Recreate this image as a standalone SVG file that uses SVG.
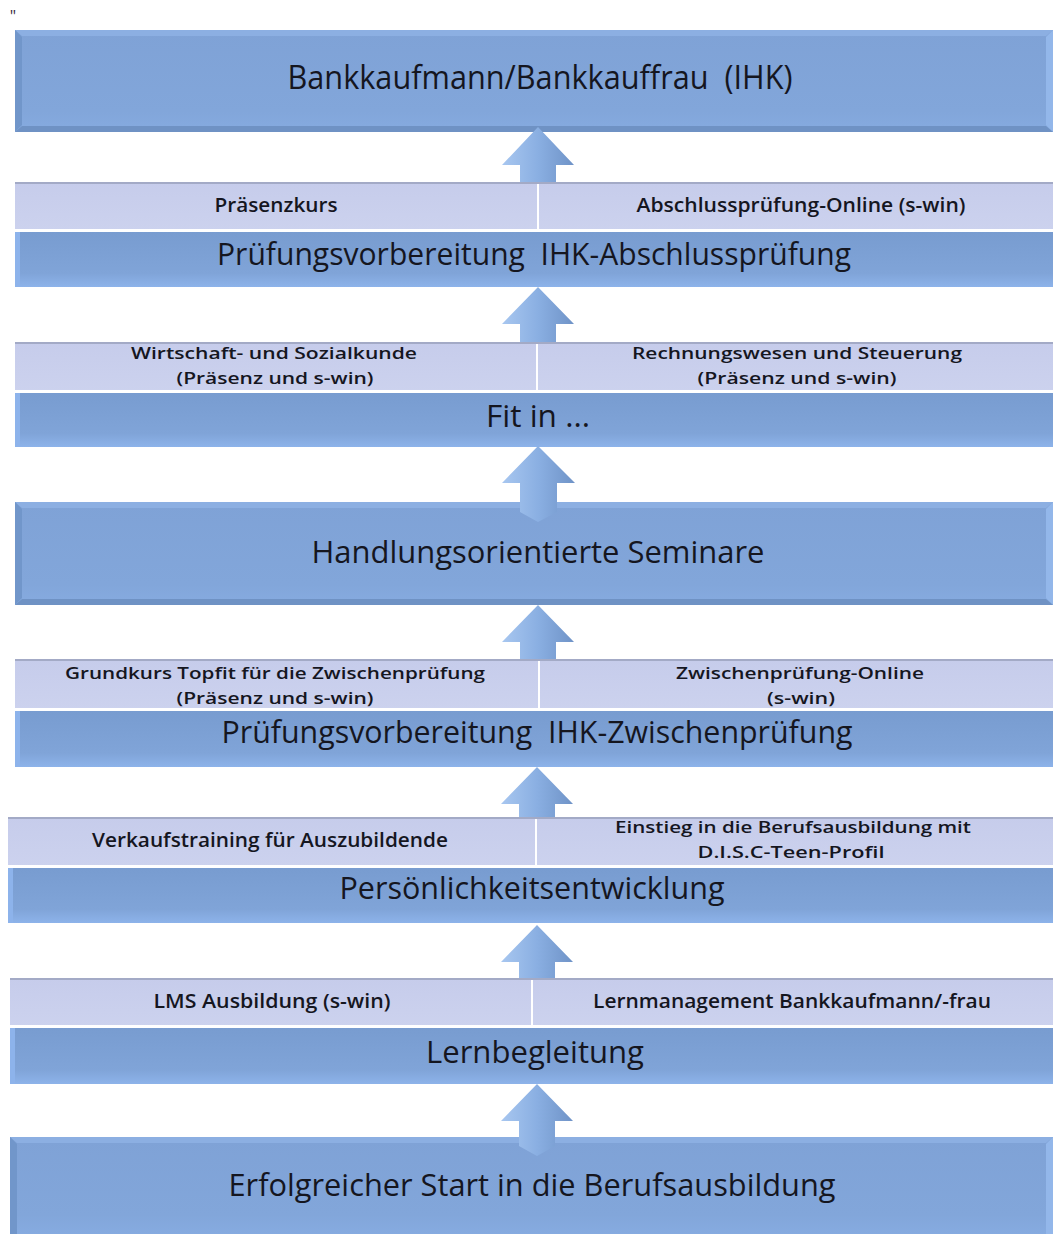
<svg xmlns="http://www.w3.org/2000/svg" width="1057" height="1234" viewBox="0 0 1057 1234">
<defs>
<linearGradient id="arrowGrad" x1="0" y1="0" x2="1" y2="0">
<stop offset="0" stop-color="#a8c7f0"/>
<stop offset="0.5" stop-color="#8aafe2"/>
<stop offset="1" stop-color="#6f93c7"/>
</linearGradient>
<linearGradient id="boxGrad" x1="0" y1="0" x2="0" y2="1">
<stop offset="0" stop-color="#7fa2d6"/>
<stop offset="0.8" stop-color="#82a6da"/>
<stop offset="1" stop-color="#86abe0"/>
</linearGradient>
<linearGradient id="barGrad" x1="0" y1="0" x2="0" y2="1">
<stop offset="0" stop-color="#789cd0"/>
<stop offset="0.75" stop-color="#80a4d8"/>
<stop offset="1" stop-color="#8db3ea"/>
</linearGradient>
<linearGradient id="subGrad" x1="0" y1="0" x2="0" y2="1">
<stop offset="0" stop-color="#c6cceb"/>
<stop offset="1" stop-color="#ccd2ee"/>
</linearGradient>
</defs>
<style>
.box{fill:url(#boxGrad)}
.bar{fill:url(#barGrad)}
.sub{fill:url(#subGrad)}
.subtop{fill:#a3aac6}
.sep{fill:#ffffff}
.bl{fill:#7196ca}
.br{fill:#93b7ea}
.bt{fill:#8cafe2}
.bb{fill:#6f92c4}
.barl{fill:#8db3eb}
.arrow{fill:url(#arrowGrad)}
text{font-family:"Open Sans","Noto Sans","Liberation Sans",sans-serif;fill:#15161f;text-anchor:middle}
.big{font-size:33px}
.mid{font-size:31px}
.sm{font-size:19px;font-weight:600}
.sm2{font-size:17px;font-weight:600}
</style>
<rect width="1057" height="1234" fill="#ffffff"/>
<text x="13" y="22" style="font-size:16px;fill:#3a2a40">"</text>

<g id="bankkaufmann">
<rect class="box" x="15" y="30" width="1038" height="102"/>
<polygon class="bt" points="15,30 1053,30 1046,36 22,36"/>
<polygon class="bl" points="15,30 22,37 22,125 15,132"/>
<polygon class="br" points="1053,30 1046,37 1046,125 1053,132"/>
<polygon class="bb" points="15,132 22,126 1046,126 1053,132"/>
<text class="big" x="540" y="89" textLength="505" lengthAdjust="spacingAndGlyphs" xml:space="preserve">Bankkaufmann/Bankkauffrau  (IHK)</text>
</g>

<g id="pruefung-abschluss">
<rect class="sub" x="15" y="182" width="1038" height="49"/>
<rect class="subtop" x="15" y="182" width="1038" height="2"/>
<rect class="sep" x="537" y="184" width="2" height="47"/>
<rect class="sep" x="15" y="229" width="1038" height="3"/>
<rect class="bar" x="15" y="232" width="1038" height="55"/>
<rect class="barl" x="15" y="232" width="5" height="55"/>
<text class="sm" x="276" y="212" textLength="123" lengthAdjust="spacingAndGlyphs">Präsenzkurs</text>
<text class="sm" x="801" y="212" textLength="329" lengthAdjust="spacingAndGlyphs">Abschlussprüfung-Online (s-win)</text>
<text class="mid" x="534" y="265" textLength="634" lengthAdjust="spacingAndGlyphs" xml:space="preserve">Prüfungsvorbereitung  IHK-Abschlussprüfung</text>
</g>

<g id="fit-in">
<rect class="sub" x="15" y="342" width="1038" height="50"/>
<rect class="subtop" x="15" y="342" width="1038" height="2"/>
<rect class="sep" x="536" y="344" width="2" height="48"/>
<rect class="sep" x="15" y="390" width="1038" height="3"/>
<rect class="bar" x="15" y="393" width="1038" height="54"/>
<rect class="barl" x="15" y="393" width="5" height="54"/>
<text class="sm2" x="274" y="359" textLength="286" lengthAdjust="spacingAndGlyphs">Wirtschaft- und Sozialkunde</text>
<text class="sm2" x="275" y="384" textLength="197" lengthAdjust="spacingAndGlyphs">(Präsenz und s-win)</text>
<text class="sm2" x="797" y="359" textLength="330" lengthAdjust="spacingAndGlyphs">Rechnungswesen und Steuerung</text>
<text class="sm2" x="797" y="384" textLength="199" lengthAdjust="spacingAndGlyphs">(Präsenz und s-win)</text>
<text class="mid" x="538" y="427" textLength="104" lengthAdjust="spacingAndGlyphs">Fit in ...</text>
</g>

<g id="seminare">
<rect class="box" x="15" y="502" width="1038" height="103"/>
<polygon class="bt" points="15,502 1053,502 1046,508 22,508"/>
<polygon class="bl" points="15,502 22,509 22,598 15,605"/>
<polygon class="br" points="1053,502 1046,509 1046,598 1053,605"/>
<polygon class="bb" points="15,605 22,599 1046,599 1053,605"/>
<text class="mid" x="538" y="563" textLength="453" lengthAdjust="spacingAndGlyphs">Handlungsorientierte Seminare</text>
</g>

<g id="pruefung-zwischen">
<rect class="sub" x="15" y="659" width="1038" height="51"/>
<rect class="subtop" x="15" y="659" width="1038" height="2"/>
<rect class="sep" x="538" y="661" width="2" height="49"/>
<rect class="sep" x="15" y="708" width="1038" height="3"/>
<rect class="bar" x="15" y="711" width="1038" height="56"/>
<rect class="barl" x="15" y="711" width="5" height="56"/>
<text class="sm2" x="275" y="679" textLength="420" lengthAdjust="spacingAndGlyphs">Grundkurs Topfit für die Zwischenprüfung</text>
<text class="sm2" x="275" y="704" textLength="197" lengthAdjust="spacingAndGlyphs">(Präsenz und s-win)</text>
<text class="sm2" x="800" y="679" textLength="248" lengthAdjust="spacingAndGlyphs">Zwischenprüfung-Online</text>
<text class="sm2" x="801" y="704" textLength="68" lengthAdjust="spacingAndGlyphs">(s-win)</text>
<text class="mid" x="537" y="743" textLength="631" lengthAdjust="spacingAndGlyphs" xml:space="preserve">Prüfungsvorbereitung  IHK-Zwischenprüfung</text>
</g>

<g id="persoenlichkeit">
<rect class="sub" x="8" y="817" width="1045" height="50"/>
<rect class="subtop" x="8" y="817" width="1045" height="2"/>
<rect class="sep" x="535" y="819" width="2" height="48"/>
<rect class="sep" x="8" y="865" width="1045" height="3"/>
<rect class="bar" x="8" y="868" width="1045" height="55"/>
<rect class="barl" x="8" y="868" width="5" height="55"/>
<text class="sm" x="270" y="847" textLength="356" lengthAdjust="spacingAndGlyphs">Verkaufstraining für Auszubildende</text>
<text class="sm2" x="793" y="833" textLength="356" lengthAdjust="spacingAndGlyphs">Einstieg in die Berufsausbildung mit</text>
<text class="sm2" x="791" y="858" textLength="187" lengthAdjust="spacingAndGlyphs">D.I.S.C-Teen-Profil</text>
<text class="mid" x="532" y="899" textLength="385" lengthAdjust="spacingAndGlyphs">Persönlichkeitsentwicklung</text>
</g>

<g id="lernbegleitung">
<rect class="sub" x="10" y="978" width="1043" height="49"/>
<rect class="subtop" x="10" y="978" width="1043" height="2"/>
<rect class="sep" x="531" y="980" width="2" height="47"/>
<rect class="sep" x="10" y="1025" width="1043" height="3"/>
<rect class="bar" x="10" y="1028" width="1043" height="56"/>
<rect class="barl" x="10" y="1028" width="5" height="56"/>
<text class="sm" x="272" y="1008" textLength="237" lengthAdjust="spacingAndGlyphs">LMS Ausbildung (s-win)</text>
<text class="sm" x="792" y="1008" textLength="398" lengthAdjust="spacingAndGlyphs">Lernmanagement Bankkaufmann/-frau</text>
<text class="mid" x="535" y="1063" textLength="218" lengthAdjust="spacingAndGlyphs">Lernbegleitung</text>
</g>

<g id="start">
<rect class="box" x="10" y="1137" width="1043" height="97"/>
<polygon class="bt" points="10,1137 1053,1137 1046,1143 17,1143"/>
<polygon class="bl" points="10,1137 17,1144 17,1234 10,1234"/>
<polygon class="br" points="1053,1137 1046,1144 1046,1234 1053,1234"/>
<text class="mid" x="532" y="1196" textLength="607" lengthAdjust="spacingAndGlyphs">Erfolgreicher Start in die Berufsausbildung</text>
</g>

<g id="connectors">
<path class="arrow" d="M538,127 L574,165 L556,165 L556,182 L520,182 L520,165 L502,165 Z"/>
<path class="arrow" d="M538,287 L574,324 L556,324 L556,342 L520,342 L520,324 L502,324 Z"/>
<path class="arrow" d="M538,446 L575,483 L557,483 L557,512 L538,522 L520,512 L520,483 L502,483 Z"/>
<path class="arrow" d="M538,605 L574,642 L556,642 L556,659 L520,659 L520,642 L502,642 Z"/>
<path class="arrow" d="M537,767 L573,804 L555,804 L555,817 L519,817 L519,804 L501,804 Z"/>
<path class="arrow" d="M537,925 L573,962 L555,962 L555,978 L519,978 L519,962 L501,962 Z"/>
<path class="arrow" d="M537,1084 L573,1121 L555,1121 L555,1146 L537,1156 L519,1146 L519,1121 L501,1121 Z"/>
</g>
</svg>
